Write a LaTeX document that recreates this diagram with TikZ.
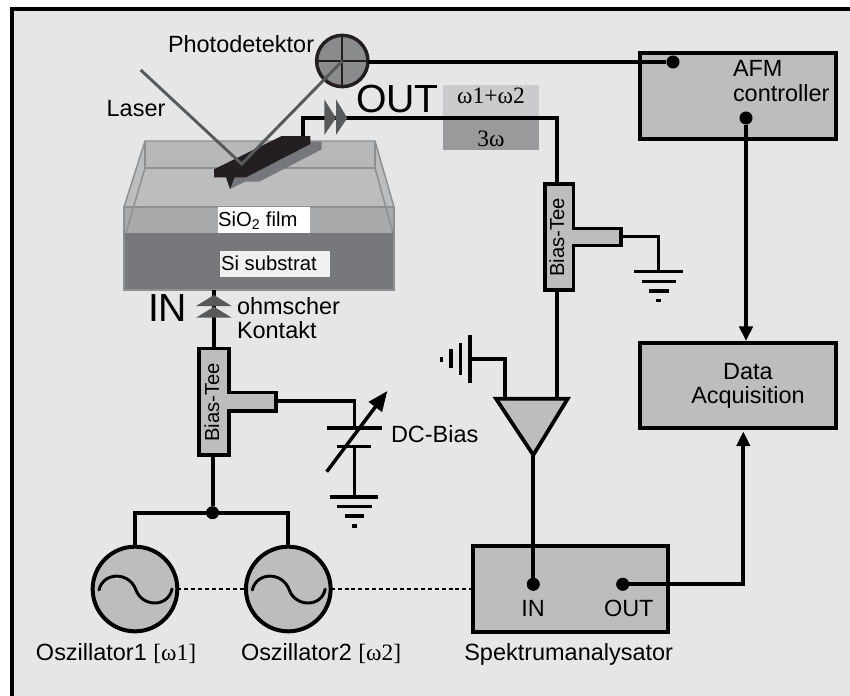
\documentclass[tikz,border=0pt]{standalone}
\usepackage{fontspec}
\setmainfont{Liberation Sans}
\newfontfamily\serf{Liberation Serif}
\usetikzlibrary{arrows.meta}
\definecolor{bgc}{HTML}{E6E6E6}
\definecolor{boxc}{HTML}{BDBDBD}
\definecolor{darkg}{HTML}{58595B}
\definecolor{detc}{HTML}{8A8B8D}
\definecolor{siS}{HTML}{77787B}
\definecolor{siO}{HTML}{A8A9AB}
\definecolor{rimc}{HTML}{8E8F91}
\definecolor{wallc}{HTML}{B7B8BA}
\definecolor{floorc}{HTML}{BCBDBF}
\definecolor{shadc}{HTML}{76777A}
\definecolor{omA}{HTML}{CBCBCD}
\definecolor{omB}{HTML}{9A9A9C}
\definecolor{canti}{HTML}{231F20}
\newcommand\fsL{\fontsize{17.6pt}{20pt}\selectfont}
\newcommand\fsM{\fontsize{15.2pt}{18pt}\selectfont}
\newcommand\fsH{\fontsize{29.4pt}{32pt}\selectfont}
\tikzset{
  lab/.style={inner sep=0pt,outer sep=0pt,anchor=base west,font=\fsL},
  labc/.style={inner sep=0pt,outer sep=0pt,anchor=base,font=\fsL},
  wire/.style={line width=3pt,black},
  thinw/.style={line width=2.3pt,black},
  bar/.style={line width=2.3pt,black},
  sbox/.style={draw=black,line width=3pt,fill=boxc,inner sep=0pt,outer sep=0pt,anchor=north west},
  dotn/.style={circle,fill=black,inner sep=0pt,outer sep=0pt,minimum size=9.8pt},
  osc/.style={circle,draw=black,line width=3pt,fill=boxc,inner sep=0pt,outer sep=0pt,minimum size=63.5pt},
  tee/.style={draw=black,line width=2.8pt,fill=boxc,line join=miter},
  beam/.style={line width=2.2pt,darkg,line join=miter},
  rim/.style={line width=1.1pt,rimc},
  harrow/.style={-{Triangle[length=11pt,width=10pt]}},
  dotted line/.style={line width=1.1pt,black,dash pattern=on 3pt off 2.2pt},
  wbox/.style={inner sep=0pt,outer sep=0pt,anchor=north west},
}
\begin{document}
\begin{tikzpicture}[x=0.75pt,y=-0.75pt]
\path[use as bounding box] (0,0) rectangle (850,696);
% sheet and frame
\fill[bgc] (12,9) rectangle (850,696);
\draw[line width=3pt,black] (12,696) -- (12,9) -- (850,9);

% wafer and liquid cell
\fill[floorc] (145,141) -- (375,141) -- (394,207) -- (124,207) -- cycle;
\fill[wallc] (145,141) rectangle (375,168);
\fill[siO] (124,207) rectangle (394,233);
\fill[siS] (124,233) rectangle (394,290);
\draw[rim] (124,290) -- (124,207) -- (394,207) -- (394,290) -- cycle;
\draw[rim] (124,207) -- (145,141) -- (375,141) -- (394,207);
\draw[rim] (145,141) -- (145,168) -- (375,168) -- (375,141);
\draw[rim] (145,168) -- (126,233);
\draw[rim] (375,168) -- (393,233);

\node[wbox,fill=white,minimum width=69pt,minimum height=19.3pt] (sioBox) at (218,207) {};
\node[lab,font=\fsM] (sioText) at (218,226) {SiO\textsubscript{2} film};
\node[wbox,fill=white!94!black,minimum width=82.5pt,minimum height=19.3pt] (siBox) at (220,251) {};
\node[lab,font=\fsM] (siText) at (221,270) {Si substrat};

% cantilever
\fill[shadc] (310,141.7) -- (321.7,141.7) -- (321.7,149.3) -- (259.3,181.7) -- (245,181.7) -- (230,189) -- (226,177) -- cycle;
\fill[canti] (226,177) -- (234.7,177) -- (230,189) -- cycle;
\fill[canti] (214,169.3) -- (281.7,136) -- (310.3,136) -- (310.3,144) -- (246,177.3) -- (214,177.3) -- cycle;

% photodetector and beams
\node[circle,draw=canti,line width=2.6pt,fill=detc,inner sep=0pt,outer sep=0pt,minimum size=38.5pt] (det) at (342.3,61) {};
\draw[line width=1.6pt,canti] (det.north) -- (det.south);
\draw[line width=1.6pt,canti] (det.west) -- (det.east);
\coordinate (laserStart) at (140.7,70);
\coordinate (spot) at (241.7,164);
\draw[beam] (laserStart) -- (spot) -- (det.center);

% boxes
\node[sbox,minimum width=147pt,minimum height=64.5pt] (afm) at (639.5,52.5) {};
\node[sbox,minimum width=147pt,minimum height=63.8pt] (daq) at (639.5,342.5) {};
\node[sbox,minimum width=146.5pt,minimum height=64.5pt] (spek) at (472.5,546) {};

% output frequency patches
\fill[omA] (443.3,85) rectangle (539,117.7);
\fill[omB] (443.3,117.7) rectangle (539,150);
\node[labc,font=\fsL\serf] (om1) at (491,103.3) {ω1+ω2};
\node[labc,font=\fsL\serf] (om2) at (491,146) {3ω};

% connectors: detector to AFM, AFM to DAQ
\node[dotn] (dotA) at (673,62) {};
\node[dotn] (dotB) at (746,118) {};
\draw[wire] (det.east |- dotA) -- (dotA);
\draw[wire,harrow] (dotB) -- (746,341);

% right bias tee
\draw[tee] (545,184) -- (573.5,184) -- (573.5,228.5) -- (621,228.5) -- (621,245.5) -- (573.5,245.5) -- (573.5,290) -- (545,290) -- cycle;
\coordinate (teeRtop) at (557.3,183);
\coordinate (teeRbot) at (557.3,291);
\coordinate (teeRarm) at (622,236.7);
\node[inner sep=0pt,outer sep=0pt,anchor=base,rotate=90,font=\fsM] (teeRtext) at (564,237.5) {Bias-Tee};

% tip wire
\coordinate (tipW) at (303.3,136);
\draw[wire] (tipW) |- (557.3,118.3) -- (teeRtop);
\fill[darkg] (324.3,99.3) -- (324.3,135) -- (336,118) -- cycle;
\fill[darkg] (336,99.3) -- (336,135) -- (347.3,118) -- cycle;

% ground of the right tee
\coordinate (gndR) at (658.3,271.7);
\draw[thinw] (teeRarm) -| (gndR);
\draw[bar] (634.3,271.7) -- (682.7,271.7);
\draw[bar] (641.7,281.7) -- (676,281.7);
\draw[bar] (649.3,291) -- (668.7,291);
\draw[bar] (656,300.7) -- (661,300.7);

% amplifier
\coordinate (ampL) at (496,398.7);
\coordinate (ampR) at (567.7,398.7);
\coordinate (ampT) at (533.3,455);
\draw[wire] (teeRbot) -- (557.3,398.7);
\coordinate (ampG) at (470,359.3);
\draw[wire] (505,398.7) |- (ampG);
\draw[tee] (ampL) -- (ampR) -- (ampT) -- cycle;
\draw[bar] (470,335) -- (470,382.7);
\draw[bar] (460.7,342.7) -- (460.7,375);
\draw[bar] (451,349.3) -- (451,368.3);
\draw[bar] (441.7,356.5) -- (441.7,362);

% spectrum analyser
\node[dotn] (inDot) at (533.3,584.3) {};
\node[dotn] (outDot) at (622.7,584.3) {};
\draw[wire] (ampT) -- (inDot);
\draw[wire,harrow] (outDot) -| (743.3,431.5);

% contact and left tee
\coordinate (waferB) at (214,290);
\coordinate (teeLtop) at (214,347);
\draw[wire] (waferB) -- (teeLtop);
\fill[darkg] (196,306) -- (231.7,306) -- (214,295) -- cycle;
\fill[darkg] (196,317.7) -- (231.7,317.7) -- (214,306.7) -- cycle;
\draw[tee] (199,348.5) -- (229,348.5) -- (229,392.5) -- (276,392.5) -- (276,411) -- (229,411) -- (229,455) -- (199,455) -- cycle;
\node[inner sep=0pt,outer sep=0pt,anchor=base,rotate=90,font=\fsM] (teeLtext) at (219,402.5) {Bias-Tee};

% DC bias
\coordinate (capTop) at (354.3,428);
\coordinate (capBot) at (354.3,446.7);
\coordinate (gndL) at (354.3,497);
\coordinate (teeLarm) at (277,401);
\draw[thinw] (teeLarm) -| (capTop);
\draw[bar] (326.7,428) -- (381.7,428);
\draw[bar] (337.3,446.7) -- (370.7,446.7);
\draw[thinw] (capBot) -- (gndL);
\draw[bar] (330,497) -- (378.3,497);
\draw[bar] (337,506.7) -- (371.7,506.7);
\draw[bar] (345,516) -- (364,516);
\draw[bar] (352,526) -- (356.7,526);
\coordinate (varA) at (326.7,471.7);
\coordinate (varB) at (387.3,391);
\draw[line width=2.6pt,-{Triangle[length=15pt,width=12pt]}] (varA) -- (varB);

% oscillators
\node[osc] (osc1) at (135,589) {};
\node[osc] (osc2) at (288.3,589) {};
\foreach \c in {osc1,osc2}{
  \draw[line width=2.2pt,line cap=round]
    ([shift={(-36,1)}]\c.center)
    .. controls ([shift={(-32,-17)}]\c.center) and ([shift={(-6,-18)}]\c.center) .. ([shift={(1,1)}]\c.center)
    .. controls ([shift={(7,18)}]\c.center) and ([shift={(33,19)}]\c.center) .. ([shift={(37,0)}]\c.center);
}
\node[dotn] (junc) at (212.5,512.7) {};
\draw[wire] (osc1.north) |- (junc);
\draw[wire] (osc2.north) |- (junc);
\draw[wire] (212.5,455) -- (junc);
\draw[dotted line] (osc1.east) -- (osc2.west);
\draw[dotted line] (osc2.east) -- (spek.west |- osc2.east);

% labels
\node[lab] (tPhoto) at (168,52.7) {Photodetektor};
\node[lab] (tLaser) at (106.7,116.7) {Laser};
\node[lab,font=\fsH] (tOut) at (356,112.7) {OUT};
\node[lab,font=\fsH] (tIn) at (148,321.7) {IN};
\node[lab] (tOhm) at (237,314) {ohmscher};
\node[lab] (tKon) at (237,338) {Kontakt};
\node[lab] (tDC) at (391,442.7) {DC-Bias};
\node[lab] (tAFM) at (733,76.7) {AFM};
\node[lab] (tCtl) at (733,101.7) {controller};
\node[labc] (tData) at (748,379) {Data};
\node[labc] (tAcq) at (748,403) {Acquisition};
\node[labc] (tSin) at (533,616) {IN};
\node[lab] (tSout) at (604,616) {OUT};
\node[lab] (tSpek) at (464.3,660) {Spektrumanalysator};
\node[lab] (tOs1) at (36,660) {Oszillator1 {\serf[ω1]}};
\node[lab] (tOs2) at (241,660) {Oszillator2 {\serf[ω2]}};
\end{tikzpicture}
\end{document}
